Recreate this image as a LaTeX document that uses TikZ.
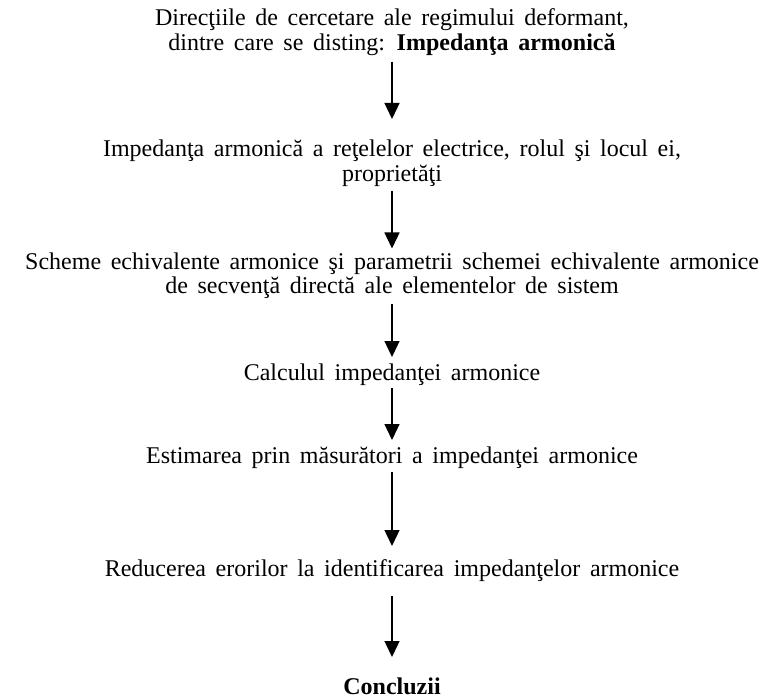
\documentclass[tikz,border=0pt]{standalone}
\usepackage{fontspec}
\setmainfont{Liberation Serif}[WordSpace=1.6]
\usetikzlibrary{arrows.meta}

\begin{document}
\begin{tikzpicture}[x=1pt, y=-1pt,
    every node/.style={align=center, inner sep=0pt, font=\fontsize{24}{24.5}\selectfont},
    flow/.style={-{Triangle[width=15pt,length=16pt]}, line width=1.3pt}]
\useasboundingbox (0,0) rectangle (783,700);

\node (dir) at (392,32) {Direcţiile de cercetare ale regimului deformant,\\ dintre care se disting: \textbf{Impedanţa armonică}};
\node (imp) at (392,163) {Impedanţa armonică a reţelelor electrice, rolul şi locul ei,\\ proprietăţi};
\node (sch) at (392,275.5) {Scheme echivalente armonice şi parametrii schemei echivalente armonice\\ de secvenţă directă ale elementelor de sistem};
\node (calc) at (392,375) {Calculul impedanţei armonice};
\node (est) at (392,458) {Estimarea prin măsurători a impedanţei armonice};
\node (red) at (392,571) {Reducerea erorilor la identificarea impedanţelor armonice};
\node (conc) at (392,686) {\textbf{Concluzii}};

\draw[flow, shorten <=30pt, shorten >=44pt] (dir.center) -- (imp.center);
\draw[flow, shorten <=28pt, shorten >=27pt] (imp.center) -- (sch.center);
\draw[flow, shorten <=28pt, shorten >=18pt] (sch.center) -- (calc.center);
\draw[flow, shorten <=13pt, shorten >=18pt] (calc.center) -- (est.center);
\draw[flow, shorten <=14pt, shorten >=25pt] (est.center) -- (red.center);
\draw[flow, shorten <=25pt, shorten >=29pt] (red.center) -- (conc.center);
\end{tikzpicture}
\end{document}
